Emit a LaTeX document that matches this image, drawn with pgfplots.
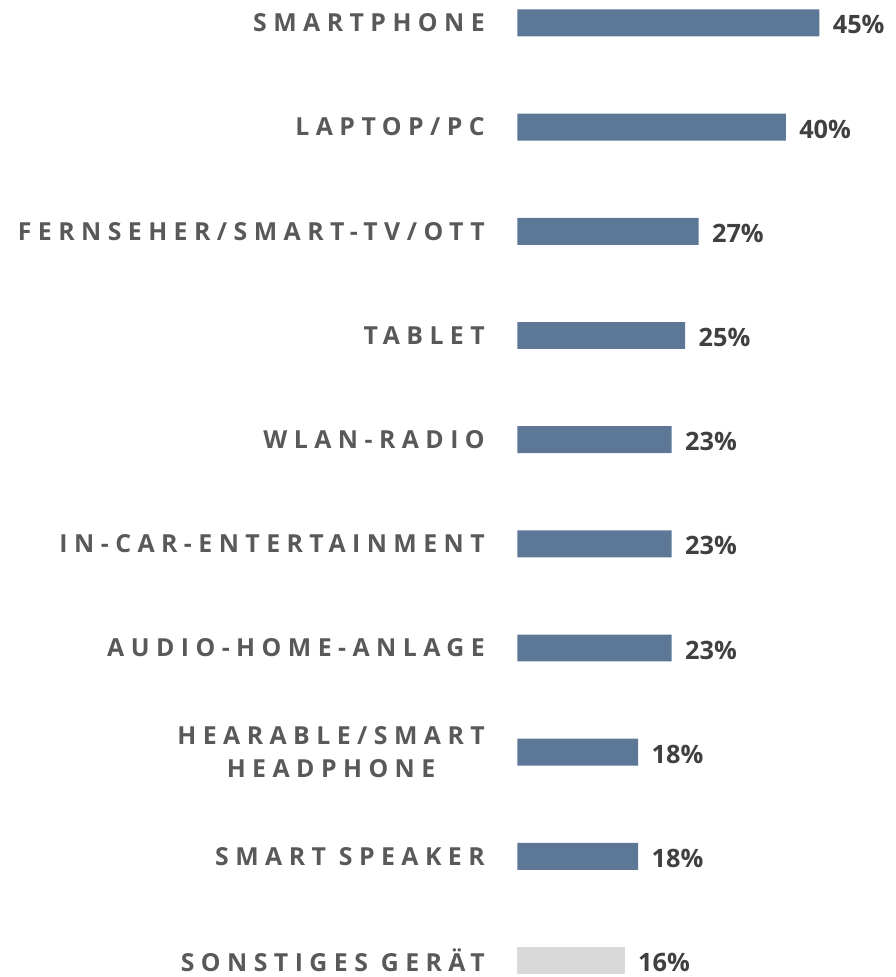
\documentclass[border=0pt]{standalone}
\usepackage{fontspec}
\setmainfont{Open Sans}
\newfontfamily\spacedfont[LetterSpace=26]{Open Sans}
\usepackage{pgfplots}
\pgfplotsset{compat=1.18}
\definecolor{barblue}{HTML}{5C7896}
\definecolor{barlight}{HTML}{D9D9D9}
\definecolor{labelgray}{HTML}{595959}
\definecolor{valgray}{HTML}{404040}
\begin{document}
\begin{tikzpicture}
\begin{axis}[
  xbar, bar shift=0pt, bar width=27bp,
  x=6.73bp, y=104.5bp,
  xmin=0, xmax=50, ymin=-0.5, ymax=9.5, y dir=reverse,
  axis line style={draw=none}, tick style={draw=none},
  xtick=\empty,
  ytick={0,...,9},
  yticklabels={SMARTPHONE, LAPTOP/PC, FERNSEHER/SMART-TV/OTT, TABLET,
    WLAN-RADIO, IN-CAR-ENTERTAINMENT, AUDIO-HOME-ANLAGE,
    {HEARABLE/SMART\\HEADPHONE}, SMART SPEAKER, SONSTIGES GERÄT},
  yticklabel style={font=\spacedfont\bfseries\fontsize{25}{34}\selectfont,
    text=labelgray, align=center, xshift=-25bp},
  point meta=x,
  nodes near coords={\pgfmathprintnumber{\pgfplotspointmeta}\%},
  nodes near coords style={font=\bfseries\fontsize{25.5}{30}\selectfont,
    text=valgray, anchor=west, xshift=10bp, yshift=-2bp,
    /pgf/number format/assume math mode=true},
  clip=false,
]
\addplot[fill=barblue, draw=none] coordinates {
  (45,0) (40,1) (27,2) (25,3) (23,4) (23,5) (23,6) (18,7) (18,8)};
\addplot[fill=barlight, draw=none] coordinates {(16,9)};
\coordinate (o) at (axis cs:0,0);
\end{axis}
\pgfresetboundingbox
\path ([shift={(-519bp,23bp)}]o) rectangle ([shift={(379bp,-957bp)}]o);
\end{tikzpicture}
\end{document}
